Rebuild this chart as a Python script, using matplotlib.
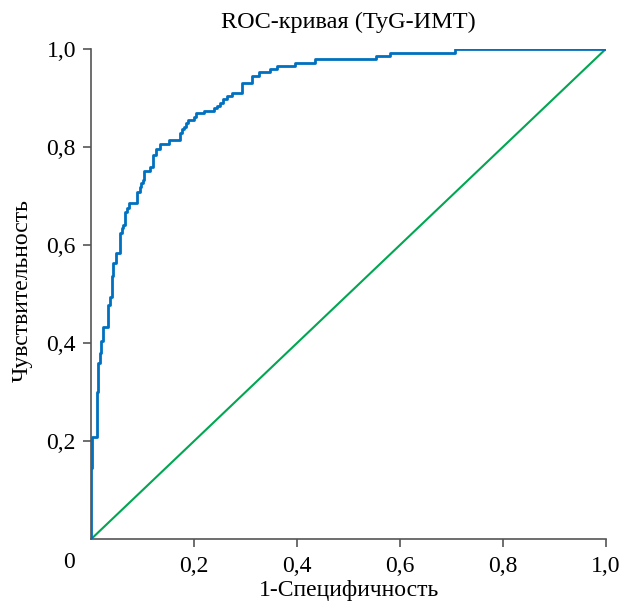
import matplotlib
matplotlib.use("Agg")
from matplotlib import pyplot as plt

# ROC curve corner points (rise at fpr to tpr, then move right)
fpr = [0.0, 0.0, 0.002, 0.0107, 0.0139, 0.017, 0.020, 0.0236, 0.033, 0.0366,
       0.040, 0.043, 0.0476, 0.055, 0.056, 0.059, 0.061, 0.066, 0.069, 0.074,
       0.0897, 0.094, 0.097, 0.101, 0.103, 0.114, 0.121, 0.126, 0.134, 0.152,
       0.173, 0.176, 0.181, 0.184, 0.189, 0.199, 0.204, 0.220, 0.238, 0.244,
       0.251, 0.257, 0.264, 0.273, 0.293, 0.313, 0.327, 0.348, 0.361, 0.396,
       0.435, 0.554, 0.581, 0.707, 1.0]
tpr = [0.0, 0.145, 0.208, 0.300, 0.359, 0.380, 0.404, 0.433, 0.478, 0.494,
       0.537, 0.564, 0.584, 0.588, 0.624, 0.634, 0.641, 0.668, 0.675, 0.685,
       0.709, 0.719, 0.726, 0.733, 0.752, 0.760, 0.784, 0.795, 0.806, 0.814,
       0.828, 0.836, 0.840, 0.850, 0.855, 0.862, 0.870, 0.874, 0.879, 0.884,
       0.890, 0.897, 0.904, 0.910, 0.931, 0.945, 0.953, 0.960, 0.965, 0.972,
       0.979, 0.986, 0.992, 1.0, 1.0]

ref_x = [0, 1]
ref_y = [0, 1]

ticks = [0.2, 0.4, 0.6, 0.8, 1.0]
tick_labels = ['0,2', '0,4', '0,6', '0,8', '1,0']

plt.rcParams['font.family'] = ['Liberation Serif', 'DejaVu Serif']

fig = plt.figure(figsize=(6.29, 6.05), dpi=100)
ax = fig.add_axes([0.145, 0.109, 0.818, 0.810])

ax.plot(ref_x, ref_y, color='#00a651', lw=1.5, zorder=2)
ax.plot(fpr, tpr, color='#0070c0', lw=2, drawstyle='steps-post', zorder=3)

ax.set_xlim(0, 1)
ax.set_ylim(0, 1)
ax.spines['top'].set_visible(False)
ax.spines['right'].set_visible(False)
for s in ['left', 'bottom']:
    ax.spines[s].set_color('#555555')
    ax.spines[s].set_linewidth(1.2)

ax.set_xticks(ticks)
ax.set_xticklabels(tick_labels)
ax.set_yticks(ticks)
ax.set_yticklabels(tick_labels)
ax.tick_params(direction='out', length=6, width=1.2, color='#555555',
               labelsize=17)
ax.tick_params(axis='x', pad=6)
ax.tick_params(axis='y', pad=5)
ax.text(-0.043, -0.048, '0', transform=ax.transAxes, fontsize=17,
        ha='center', va='center')

ax.set_xlabel('1-Специфичность', fontsize=17)
ax.xaxis.set_label_coords(0.502, -0.084)
ax.set_ylabel('Чувствительность', fontsize=17)
ax.yaxis.set_label_coords(-0.113, 0.508)
ax.text(0.5, 1.055, 'ROC-кривая (TyG-ИМТ)', transform=ax.transAxes,
        fontsize=17.5, ha='center', va='center')

fig.savefig('out.png', dpi=100)
